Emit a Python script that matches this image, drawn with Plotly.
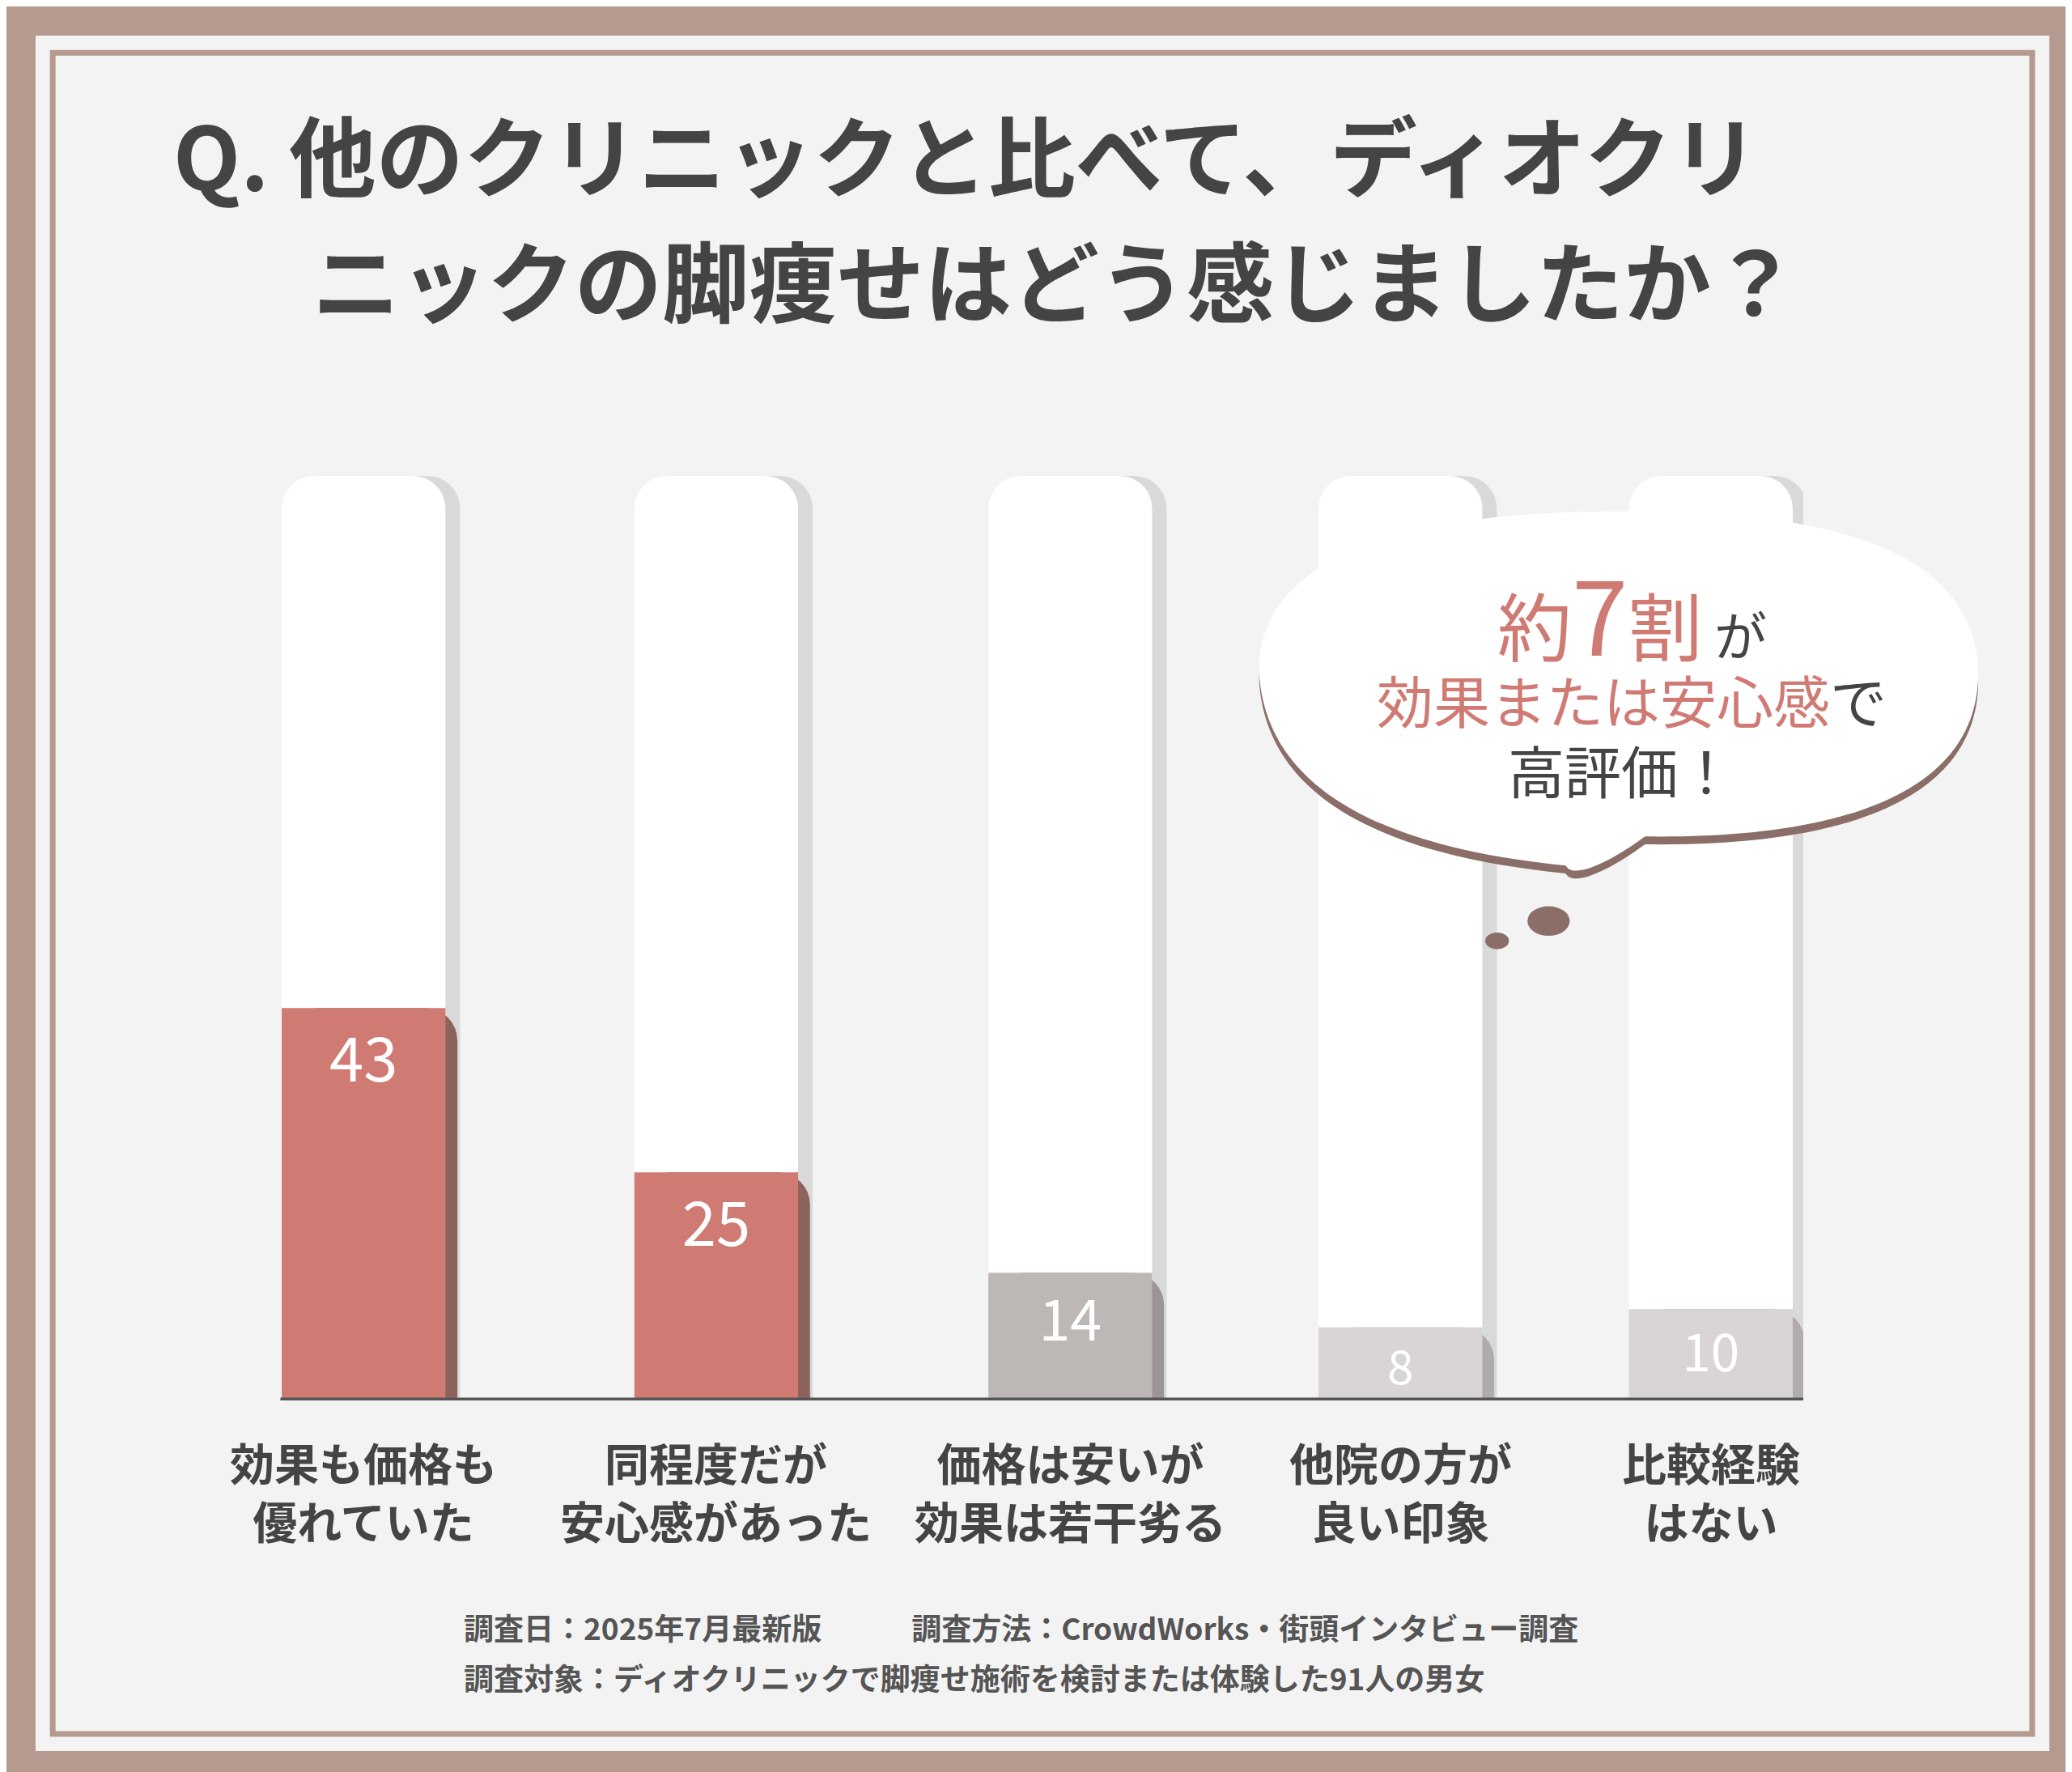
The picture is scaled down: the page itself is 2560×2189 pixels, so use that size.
import plotly.graph_objects as go

categories = ["効果も価格も<br>優れていた", "同程度だが<br>安心感があった", "価格は安いが<br>効果は若干劣る", "他院の方が<br>良い印象", "比較経験<br>はない"]
values = [43, 25, 14, 8, 10]
bar_colors = ["#d07a74", "#d07a74", "#bdb8b6", "#d8d5d4", "#d8d5d4"]
shadow_colors = ["#8c625d", "#8c625d", "#9a9594", "#b0acab", "#b0acab"]
xpos = [270, 537, 805, 1055, 1290]

W, H = 2560, 2189
s = W / 1568
L, R, T, B = 327, 340, 580, 467
PW, PH = W - L - R, H - T - B
def px(d): return (d * s - L) / PW
def py(d): return ((H - B) - d * s) / PH

fig = go.Figure()
ytop = 101.3
fig.add_bar(x=[x + 8 for x in xpos], y=[ytop] * 5, width=130, marker=dict(color="#d9d9d9", cornerradius=40, line_width=0), hoverinfo="skip")
fig.add_bar(x=xpos, y=[ytop] * 5, width=124, marker=dict(color="#ffffff", cornerradius=40, line_width=0), hoverinfo="skip")
fig.add_bar(x=[x + 6 for x in xpos], y=values, width=130, marker=dict(color=shadow_colors, cornerradius=40, line_width=0), hoverinfo="skip")
fig.add_bar(x=xpos, y=values, width=124, marker=dict(color=bar_colors, cornerradius=40, line_width=0),
            text=[str(v) for v in values], textposition="inside", insidetextanchor="end",
            textfont=dict(color="white", size=[76, 76, 70, 58, 64], family="Noto Sans CJK JP"), hoverinfo="skip")
fig.update_layout(barmode="overlay", showlegend=False, width=W, height=H,
                  margin=dict(l=L, r=R, t=T, b=B), paper_bgcolor="#b59a90", plot_bgcolor="rgba(0,0,0,0)",
                  font=dict(family="Noto Sans CJK JP", color="#444"))
fig.update_xaxes(range=[200, 1360], visible=False)
fig.update_yaxes(range=[0, ytop], visible=False)

shapes = [
    dict(type="rect", xref="paper", yref="paper", x0=px(22), x1=px(1546), y0=py(1320), y1=py(22), fillcolor="#f4f3f3", line_width=0, layer="below"),
    dict(type="rect", xref="paper", yref="paper", x0=px(35), x1=px(1533), y0=py(1307), y1=py(35), line=dict(color="#b59a90", width=7), layer="below"),
    dict(type="line", xref="x", yref="y", x0=207, x1=1360, y0=0, y1=0, line=dict(color="#555", width=7)),
]
def cloud(dy):
    return (f"M {px(948)},{py(505+dy)} C {px(945)},{py(420+dy)} {px(1050)},{py(382+dy)} {px(1220)},{py(382+dy)} "
            f"C {px(1400)},{py(380+dy)} {px(1495)},{py(420+dy)} {px(1492)},{py(510+dy)} "
            f"C {px(1488)},{py(590+dy)} {px(1400)},{py(630+dy)} {px(1240)},{py(628+dy)} "
            f"C {px(1210)},{py(650+dy)} {px(1185)},{py(660+dy)} {px(1180)},{py(650+dy)} "
            f"C {px(1080)},{py(640+dy)} {px(955)},{py(610+dy)} {px(948)},{py(505+dy)} Z")
shapes.append(dict(type="path", xref="paper", yref="paper", path=cloud(6), fillcolor="#8c6e68", line_width=0))
shapes.append(dict(type="path", xref="paper", yref="paper", path=cloud(0), fillcolor="#ffffff", line_width=0))
for (cx, cy, r) in [(1128, 707, 9), (1167, 692, 16)]:
    shapes.append(dict(type="circle", xref="paper", yref="paper", x0=px(cx - r), x1=px(cx + r), y0=py(cy + r * 0.7), y1=py(cy - r * 0.7), fillcolor="#8c6e68", line_width=0))
fig.update_layout(shapes=shapes)

def A(x, y, text, size, color="#444", xanchor="center", xref="paper"):
    return dict(x=x, y=y, xref=xref, yref="paper", xanchor=xanchor, yanchor="middle", showarrow=False,
                text=text, font=dict(size=size, color=color))
ann = [
    A(px(125), py(110), "<b>Q. 他のクリニックと比べて、ディオクリ</b>", 108, xanchor="left"),
    A(px(230), py(205), "<b>ニックの脚痩せはどう感じましたか？</b>", 108, xanchor="left"),
]
for x, c in zip(xpos, categories):
    ann.append(A(x, py(1123), "<b>" + c + "</b>", 55, xref="x"))
ann.append(A(px(1230), py(458),
             "<span style='color:#d07a74;font-size:92px'>約</span><span style='color:#d07a74;font-size:125px'>7</span><span style='color:#d07a74;font-size:92px'>割</span><span style='font-size:65px'> が</span>", 92))
ann.append(A(px(1230), py(524), "<span style='color:#d07a74'>効果または安心感</span>で", 70))
ann.append(A(px(1222), py(577), "高評価！", 70))
ann.append(A(px(345), py(1226), "<b>調査日：2025年7月最新版　　　調査方法：CrowdWorks・街頭インタビュー調査</b>", 37, "#555", xanchor="left"))
ann.append(A(px(345), py(1264), "<b>調査対象：ディオクリニックで脚痩せ施術を検討または体験した91人の男女</b>", 37, "#555", xanchor="left"))
fig.update_layout(annotations=ann)
fig.write_html("out.html")
